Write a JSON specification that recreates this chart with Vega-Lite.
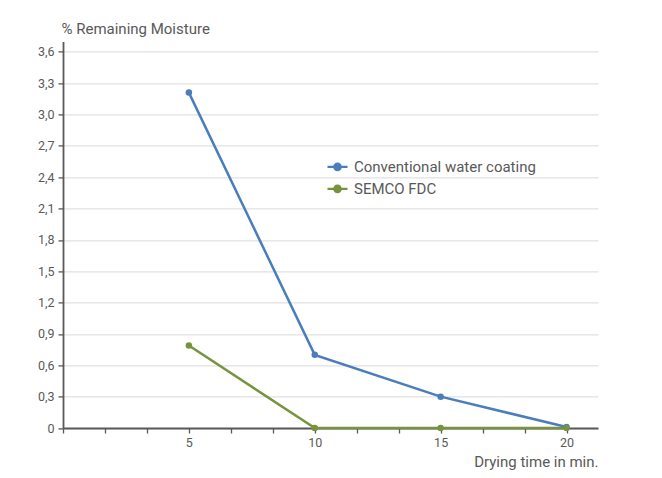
{
  "$schema": "https://vega.github.io/schema/vega-lite/v6.json",
  "autosize": {"type": "none"},
  "padding": {"left": 63, "top": 41.4, "right": 64, "bottom": 50},
  "width": 535,
  "height": 386.6,
  "background": "white",
  "config": {
    "font": "Roboto, sans-serif",
    "view": {"stroke": null},
    "axis": {"labelColor": "#595959", "titleColor": "#595959", "labelFontSize": 12.5, "titleFontSize": 15, "titleFontWeight": "normal", "domainColor": "#595959", "tickColor": "#595959", "domainWidth": 1.8, "tickWidth": 1.3, "gridColor": "#d9d9d9", "gridWidth": 1}
  },
  "data": {
    "values": [
      {"time": 5, "moisture": 3.21, "series": "Conventional water coating"},
      {"time": 10, "moisture": 0.70, "series": "Conventional water coating"},
      {"time": 15, "moisture": 0.30, "series": "Conventional water coating"},
      {"time": 20, "moisture": 0.01, "series": "Conventional water coating"},
      {"time": 5, "moisture": 0.79, "series": "SEMCO FDC"},
      {"time": 10, "moisture": 0.0, "series": "SEMCO FDC"},
      {"time": 15, "moisture": 0.0, "series": "SEMCO FDC"},
      {"time": 20, "moisture": 0.0, "series": "SEMCO FDC"}
    ]
  },
  "encoding": {
    "x": {
      "field": "time", "type": "quantitative",
      "scale": {"domain": [0, 21.25], "nice": false, "zero": false},
      "axis": {
        "title": "Drying time in min.",
        "values": [0, 1.6667, 3.3333, 5, 6.6667, 8.3333, 10, 11.6667, 13.3333, 15, 16.6667, 18.3333, 20],
        "labelExpr": "(datum.value == 5 || datum.value == 10 || datum.value == 15 || datum.value == 20) ? datum.label : ''",
        "grid": false, "tickSize": 5, "labelPadding": 3,
        "titleAnchor": "end", "titleAlign": "right", "titleX": 535, "titleY": 38, "titleBaseline": "alphabetic"
      }
    },
    "y": {
      "field": "moisture", "type": "quantitative",
      "scale": {"domain": [0, 3.7], "nice": false},
      "axis": {
        "title": "% Remaining Moisture",
        "values": [0, 0.3, 0.6, 0.9, 1.2, 1.5, 1.8, 2.1, 2.4, 2.7, 3.0, 3.3, 3.6],
        "labelExpr": "datum.value == 0 ? '0' : replace(format(datum.value, '.1f'), '.', ',')",
        "grid": true, "tickSize": 5, "labelPadding": 4,
        "titleAngle": 0, "titleAlign": "left", "titleAnchor": "start", "titleX": -2, "titleY": -8, "titleBaseline": "alphabetic"
      }
    },
    "color": {
      "field": "series", "type": "nominal",
      "scale": {"domain": ["Conventional water coating", "SEMCO FDC"], "range": ["#4a7ebb", "#77933c"]},
      "legend": {
        "title": null, "orient": "none", "legendX": 263, "legendY": 114,
        "labelFontSize": 15, "labelColor": "#595959", "rowPadding": 2, "labelOffset": 5, "labelLimit": 300,
        "symbolType": "M-1,0H1M-0.32,0A0.32,0.32 0 1,0 0.32,0A0.32,0.32 0 1,0 -0.32,0Z",
        "symbolSize": 400, "symbolStrokeWidth": 2.2,
        "encode": {"symbols": {"update": {"fill": {"scale": "color", "field": "value"}, "stroke": {"scale": "color", "field": "value"}, "opacity": {"value": 1}}}}
      }
    }
  },
  "layer": [
    {"mark": {"type": "line", "strokeWidth": 2.5, "clip": false}},
    {"mark": {"type": "circle", "size": 42, "opacity": 1, "clip": false}}
  ]
}
